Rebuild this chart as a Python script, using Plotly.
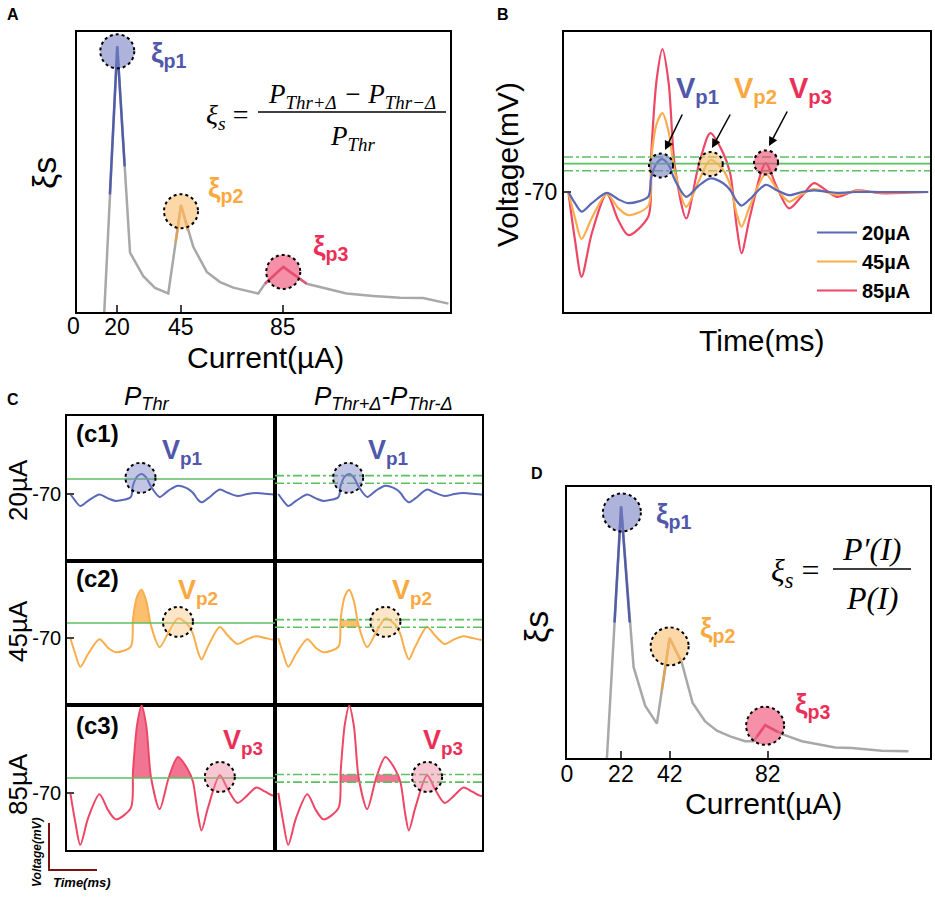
import numpy as np
import plotly.graph_objects as go

W, H = 935, 919
SANS = "Liberation Sans, Arial, sans-serif"
SERIF = "Liberation Serif, Times New Roman, serif"

# ============================================================
# Data
# ============================================================
# Panel A: xi_s vs current (arbitrary xi units 0..100)
a_current = [15.0, 20.1, 25.1, 30.3, 34.9, 40.1, 45.1, 49.9, 55.2, 60.4, 65.6,
             75.4, 78.0, 85.2, 94.4, 110.0, 120.5, 131.0, 140.1, 150.0]
a_xi = [0.0, 94.9, 21.2, 12.8, 8.6, 6.6, 38.2, 23.3, 14.3, 10.7, 8.7,
        6.6, 10.1, 16.1, 10.1, 6.6, 5.7, 5.1, 5.0, 3.0]
a_ticks = [20, 45, 85]
a_hi_current = [[17.2, 20.1, 23.0], [43.0, 45.1, 47.8], [78.0, 85.2, 94.4]]
a_hi_xi = [[42.0, 94.9, 52.0], [25.0, 38.2, 29.0], [10.1, 16.1, 10.1]]
a_peak_current = [20.1, 45.1, 85.2]
a_peak_xi = [93.1, 36.0, 14.3]

# Panel B: membrane voltage traces
b_time = [1.2, 3.0, 4.8, 7.6, 11.7, 14.8, 17.6, 23.0, 23.8, 25.3, 26.9, 28.6,
          30.3, 33.4, 36.7, 40.0, 43.5, 45.4, 47.2, 48.5, 50.8, 55.1, 58.0,
          61.5, 65.0, 68.3, 71.5, 74.5, 80.0, 86.4, 99.5]
v_20 = [-70, -72.8, -74.9, -72.8, -70.2, -71.8, -72.8, -71.2, -66.5, -62.8, -61.8, -63.3,
        -67.0, -71.2, -68.5, -66.6, -67.8, -69.5, -72.3, -73.4, -71.8, -68.2, -69.5,
        -70.8, -70.0, -69.6, -69.9, -70.2, -70.0, -70.0, -70.0]
v_45 = [-70, -76.5, -81.75, -76.5, -70.5, -74.0, -75.8, -73.5, -62.0, -53.0, -50.3, -55.0,
        -65.0, -73.7, -67.5, -62.0, -64.5, -68.3, -75.5, -78.7, -73.5, -65.5, -69.0,
        -72.4, -70.5, -69.3, -70.0, -70.7, -69.8, -70.1, -70.0]
v_85 = [-70, -82.0, -91.2, -80.3, -70.5, -77.0, -80.8, -76.2, -61.0, -42.0, -34.3, -42.8,
        -63.7, -76.6, -63.7, -55.3, -60.3, -65.3, -78.7, -85.3, -76.2, -62.8, -68.5,
        -74.1, -71.0, -67.8, -69.5, -71.2, -69.6, -70.3, -70.0]
b_names = ["20µA", "45µA", "85µA"]
b_thr, b_thr_hi, b_thr_lo = -62.9, -61.25, -64.7
b_peak_time = [26.5, 40.1, 55.2]
b_peak_v = [-63.4, -63.0, -62.6]

# Panel C thresholds and circled peaks
c_thr, c_thr_hi, c_thr_lo = -63.9, -62.5, -65.6
c_peak_time = [26.5, 40.0, 55.1]
c_peak_v = [-63.4, -63.4, -63.5]
c_ranges = [[-97.3, -38.2], [-97.3, -38.6], [-93.3, -34.1]]

# Panel D: xi_s vs current
d_current = [16.3, 22.1, 27.2, 31.9, 36.7, 41.9, 46.9, 51.3, 56.4, 61.2, 66.6,
             72.7, 76.2, 80.9, 88.4, 95.9, 109.5, 116.3, 128.5, 139.4]
d_xi = [0.0, 92.9, 33.5, 19.3, 12.7, 44.3, 35.1, 20.3, 13.5, 10.1, 8.0,
        6.2, 6.2, 12.1, 8.6, 6.2, 3.9, 3.7, 2.7, 2.5]
d_ticks = [0, 22, 42, 82]
d_hi_current = [[19.4, 22.1, 25.6], [38.7, 41.9, 46.9], [77.5, 80.9, 86.0]]
d_hi_xi = [[50.0, 92.9, 50.0], [25.0, 44.3, 35.1], [7.9, 12.1, 9.6]]
d_peak_current = [22.4, 41.9, 80.9]
d_peak_xi = [90.6, 41.2, 11.9]

# ============================================================
# Styles
# ============================================================
BLUE, YELLOW, RED = "#5a68b8", "#f9ad4c", "#ee4766"
LBLUE, LYELLOW, LRED = "#5058aa", "#f9a93f", "#ea3058"
HI = ["#4450a8", "#e6a24a", "#e84a6e"]
GREY = "#a8a8a8"
GREEN = "#5cbf60"
FILL_A = ["rgba(120,128,196,0.6)", "rgba(250,190,110,0.6)", "rgba(238,70,110,0.6)"]
FILL_C = ["rgba(120,128,196,0.45)", "rgba(250,200,130,0.45)", "rgba(240,130,160,0.45)"]
AREA_C = ["rgba(249,170,60,0.75)", "rgba(249,170,60,0.75)", "rgba(236,70,110,0.75)"]
COLS = [BLUE, YELLOW, RED]
LCOLS = [LBLUE, LYELLOW, LRED]


def px(x):
    return x / W


def py(y):
    return 1 - y / H


fig = go.Figure()
layout = {}
annotations = []
shapes = []


def make_axes(n, xdom, ydom, xrange, yrange, lw=2.0):
    xa = "xaxis" if n == 1 else "xaxis%d" % n
    ya = "yaxis" if n == 1 else "yaxis%d" % n
    xid = "x" if n == 1 else "x%d" % n
    yid = "y" if n == 1 else "y%d" % n
    common = dict(showline=True, mirror=True, linecolor="black", linewidth=lw,
                  showgrid=False, zeroline=False, ticks="", showticklabels=False,
                  fixedrange=True, automargin=False)
    layout[xa] = dict(domain=[px(xdom[0]), px(xdom[1])], range=xrange, anchor=yid, **common)
    layout[ya] = dict(domain=[py(ydom[1]), py(ydom[0])], range=yrange, anchor=xid, **common)
    return xid, yid, xa, ya


def circle(xid, yid, x, y, r, fill):
    shapes.append(dict(type="circle", xref=xid, yref=yid, xsizemode="pixel", ysizemode="pixel",
                       xanchor=x, yanchor=y, x0=-r, x1=r, y0=-r, y1=r,
                       fillcolor=fill, line=dict(color="black", width=2, dash="dot")))


def hline(xid, yid, y, dash):
    shapes.append(dict(type="line", xref=xid + " domain", yref=yid, x0=0, x1=1, y0=y, y1=y,
                       line=dict(color=GREEN, width=1.6, dash=dash), layer="above"))


def text(x, y, s, size, color="black", family=SANS, angle=0):
    annotations.append(dict(x=px(x), y=py(y), xref="paper", yref="paper", text=s,
                            xanchor="center", yanchor="middle",
                            showarrow=False, textangle=angle,
                            font=dict(size=size, color=color, family=family)))


# ============================================================
# Panel A
# ============================================================
xa_, ya_, xk, yk = make_axes(1, [77, 450], [32, 312], [4.3, 150.6], [0, 100])
layout[xk].update(tickvals=a_ticks, ticks="inside", ticklen=7, tickwidth=1.5,
                  showticklabels=True, ticklabelstandoff=-7,
                  tickfont=dict(size=23, family=SANS, color="black"))
fig.add_trace(go.Scatter(x=a_current, y=a_xi, mode="lines", line=dict(color=GREY, width=2.5),
                         xaxis=xa_, yaxis=ya_, showlegend=False, hoverinfo="skip"))
for i in range(3):
    fig.add_trace(go.Scatter(x=a_hi_current[i], y=a_hi_xi[i], mode="lines",
                             line=dict(color=HI[i], width=2.5), opacity=0.85,
                             xaxis=xa_, yaxis=ya_, showlegend=False, hoverinfo="skip"))
    circle(xa_, ya_, a_peak_current[i], a_peak_xi[i], 17, FILL_A[i])
text(13, 15, "<b>A</b>", 16)
text(73, 326, "0", 23)
text(265, 357, "Current(µA)", 30)
text(44, 173, "ξs", 34, angle=-90)
text(168, 55, "<b>ξ<sub>p1</sub></b>", 28, LBLUE)
text(225, 189, "<b>ξ<sub>p2</sub></b>", 28, LYELLOW)
text(330, 247, "<b>ξ<sub>p3</sub></b>", 28, LRED)
# formula
text(227, 117, "<i>ξ<sub>s</sub></i> =", 28, family=SERIF)
text(352, 96, "<i>P<sub>Thr+Δ</sub> − P<sub>Thr−Δ</sub></i>", 27, family=SERIF)
text(352, 138, "<i>P<sub>Thr</sub></i>", 27, family=SERIF)
shapes.append(dict(type="line", xref="paper", yref="paper", x0=px(258), x1=px(446),
                   y0=py(112), y1=py(112), line=dict(color="black", width=1.5)))

# ============================================================
# Panel B
# ============================================================
xb, yb, xk, yk = make_axes(2, [564, 930], [32, 312], [0, 100], [-100, -30])
layout[yk].update(tickvals=[-70], ticktext=["-70"], ticks="inside", ticklen=7, tickwidth=1.5,
                  showticklabels=True, tickfont=dict(size=23, family=SANS, color="black"))
series = [v_20, v_45, v_85]
for i in [2, 1, 0]:
    fig.add_trace(go.Scatter(x=b_time, y=series[i], mode="lines", name=b_names[i],
                             line=dict(color=COLS[i], width=2.2, shape="spline", smoothing=0.8),
                             xaxis=xb, yaxis=yb, legendrank=i, hoverinfo="skip"))
hline(xb, yb, b_thr, "solid")
hline(xb, yb, b_thr_hi, "dashdot")
hline(xb, yb, b_thr_lo, "dashdot")
for i in range(3):
    circle(xb, yb, b_peak_time[i], b_peak_v[i], 12, FILL_A[i])
text(503, 15, "<b>B</b>", 16)
text(508, 165, "Voltage(mV)", 30, angle=-90)
text(762, 340, "Time(ms)", 30)
v_lab_x = [697, 755, 810]
tails = [(683, 113), (731, 113), (788, 110)]
heads = [(665, 150), (712, 148), (769, 146)]
for i in range(3):
    text(v_lab_x[i], 90, "<b>V<sub>p%d</sub></b>" % (i + 1), 29, LCOLS[i])
    annotations.append(dict(x=px(heads[i][0]), y=py(heads[i][1]), xref="paper", yref="paper",
                            ax=tails[i][0] - heads[i][0], ay=tails[i][1] - heads[i][1],
                            axref="pixel", ayref="pixel", text="", showarrow=True,
                            arrowhead=2, arrowsize=1.2, arrowwidth=1.5, arrowcolor="black"))

# ============================================================
# Panel C
# ============================================================
bt = np.array(b_time, dtype=float)


def crossings(v, thr, t_lo, t_hi):
    v = np.asarray(v, dtype=float)
    idx = np.where((bt >= t_lo) & (bt <= t_hi) & (v > thr))[0]
    i0, i1 = idx[0], idx[-1]
    tl = bt[i0 - 1] + (thr - v[i0 - 1]) * (bt[i0] - bt[i0 - 1]) / (v[i0] - v[i0 - 1])
    tr = bt[i1] + (thr - v[i1]) * (bt[i1 + 1] - bt[i1]) / (v[i1 + 1] - v[i1])
    return tl, tr, idx


windows = [(22, 32), (34, 45)]
filled_peaks = [0, 1, 2]  # number of filled peaks per row
cell_x = [[67, 275], [275, 482]]
cell_y = [[416, 561], [561, 705], [705, 850]]
n = 3
for r in range(3):
    for c in range(2):
        xc, yc, xk, yk = make_axes(n, cell_x[c], cell_y[r], [0, 75], c_ranges[r], lw=1.6)
        n += 1
        if c == 0:
            layout[yk].update(tickvals=[-70], ticktext=["-70"], ticks="inside", ticklen=7,
                              tickwidth=1.5, showticklabels=True,
                              tickfont=dict(size=20, family=SANS, color="black"))
        v = series[r]
        for k in range(filled_peaks[r]):
            lo, hi = windows[k]
            if c == 0:
                tl, tr, idx = crossings(v, c_thr, lo, hi)
                fx = [tl] + [bt[j] for j in idx] + [tr]
                fy = [c_thr] + [v[j] for j in idx] + [c_thr]
                fig.add_trace(go.Scatter(x=fx, y=fy, mode="lines", fill="toself",
                                         fillcolor=AREA_C[r],
                                         line=dict(width=0, shape="spline", smoothing=0.8),
                                         xaxis=xc, yaxis=yc, showlegend=False, hoverinfo="skip"))
            else:
                tl1, tr1, _ = crossings(v, c_thr_lo, lo, hi)
                tl2, tr2, _ = crossings(v, c_thr_hi, lo, hi)
                fig.add_trace(go.Scatter(x=[tl1, tl2, tr2, tr1],
                                         y=[c_thr_lo, c_thr_hi, c_thr_hi, c_thr_lo],
                                         mode="lines", fill="toself", fillcolor=AREA_C[r],
                                         line=dict(width=0), xaxis=xc, yaxis=yc,
                                         showlegend=False, hoverinfo="skip"))
        fig.add_trace(go.Scatter(x=b_time, y=v, mode="lines",
                                 line=dict(color=COLS[r], width=2, shape="spline", smoothing=0.8),
                                 xaxis=xc, yaxis=yc, showlegend=False, hoverinfo="skip"))
        if c == 0:
            hline(xc, yc, c_thr, "solid")
        else:
            hline(xc, yc, c_thr_hi, "dashdot")
            hline(xc, yc, c_thr_lo, "dashdot")
        circle(xc, yc, c_peak_time[r], c_peak_v[r], 15, FILL_C[r])

text(13, 400, "<b>C</b>", 16)
text(147, 397, "<i>P<sub>Thr</sub></i>", 26)
text(383, 397, "<i>P<sub>Thr+Δ</sub>-P<sub>Thr-Δ</sub></i>", 26)
row_lab_y = [490, 631, 784]
for r in range(3):
    text(18, row_lab_y[r], b_names[r], 26, angle=-90)
    text(97, [433, 578, 725][r], "<b>(c%d)</b>" % (r + 1), 24)
vlab = [[(182, 452), (388, 452)], [(198, 592), (412, 592)], [(243, 742), (443, 742)]]
for r in range(3):
    for c in range(2):
        text(vlab[r][c][0], vlab[r][c][1], "<b>V<sub>p%d</sub></b>" % (r + 1), 27, LCOLS[r])
# scale bar
shapes.append(dict(type="path", xref="paper", yref="paper",
                   path="M %f,%f L %f,%f L %f,%f" % (px(49), py(823), px(49), py(870), px(97), py(870)),
                   line=dict(color="#7a1214", width=2)))
text(37, 852, "<b><i>Voltage(mV)</i></b>", 12, angle=-90)
text(82, 882, "<b><i>Time(ms)</i></b>", 13)

# ============================================================
# Panel D
# ============================================================
xd, yd, xk, yk = make_axes(9, [567, 930], [487, 758], [0, 148.2], [0, 100])
layout[xk].update(tickvals=d_ticks, ticks="inside", ticklen=7, tickwidth=1.5,
                  showticklabels=True, ticklabelstandoff=-6,
                  tickfont=dict(size=23, family=SANS, color="black"))
fig.add_trace(go.Scatter(x=d_current, y=d_xi, mode="lines", line=dict(color=GREY, width=2.5),
                         xaxis=xd, yaxis=yd, showlegend=False, hoverinfo="skip"))
for i in range(3):
    fig.add_trace(go.Scatter(x=d_hi_current[i], y=d_hi_xi[i], mode="lines",
                             line=dict(color=HI[i], width=2.5), opacity=0.85,
                             xaxis=xd, yaxis=yd, showlegend=False, hoverinfo="skip"))
    circle(xd, yd, d_peak_current[i], d_peak_xi[i], 19, FILL_A[i])
text(537, 474, "<b>D</b>", 16)
text(763, 803, "Current(µA)", 30)
text(536, 627, "ξs", 34, angle=-90)
text(673, 515, "<b>ξ<sub>p1</sub></b>", 28, LBLUE)
text(717, 629, "<b>ξ<sub>p2</sub></b>", 28, LYELLOW)
text(812, 705, "<b>ξ<sub>p3</sub></b>", 28, LRED)
text(795, 572, "<i>ξ<sub>s</sub></i> =", 32, family=SERIF)
text(872, 549, "<i>P′(I)</i>", 32, family=SERIF)
text(872, 598, "<i>P(I)</i>", 32, family=SERIF)
shapes.append(dict(type="line", xref="paper", yref="paper", x0=px(833), x1=px(911),
                   y0=py(569), y1=py(569), line=dict(color="black", width=1.5)))

fig.update_layout(
    template="none",
    width=W, height=H, margin=dict(l=0, r=0, t=0, b=0, pad=0),
    paper_bgcolor="white", plot_bgcolor="rgba(0,0,0,0)",
    font=dict(family=SANS, color="black"),
    legend=dict(x=px(812), y=py(213), xanchor="left", yanchor="top",
                bgcolor="rgba(0,0,0,0)", font=dict(size=20, family=SANS, weight="bold"),
                itemwidth=40, tracegroupgap=0),
    annotations=annotations, shapes=shapes, **layout)

fig.write_html("out.html", config={"displayModeBar": False},
               post_script="document.body.style.margin='0px';")
